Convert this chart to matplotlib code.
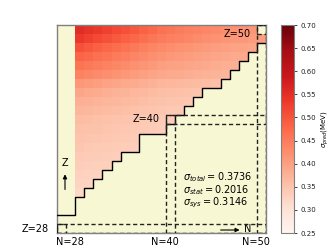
import numpy as np
import matplotlib
matplotlib.use("Agg")
import matplotlib.pyplot as plt
from matplotlib.patches import Rectangle

# ---- data ----
n_min, n_max = 28, 50
z_min, z_max = 28, 50
first_pred_N = 30
# highest known Z for each N (28..50), defines the staircase
z_known_max = [29, 29, 31, 32, 33, 34, 35, 36, 36, 38, 38, 38, 39, 40, 41,
               42, 43, 43, 44, 45, 46, 47, 48]
# predicted sigma values per Z row, starting at N=30
pred_rows = {
    50: [.555, .545, .535, .525, .515, .505, .495, .485, .475, .465, .458, .452, .446, .440, .435, .430, .425, .420, .420, .415],
    49: [.535, .525, .515, .505, .496, .487, .478, .469, .459, .450, .445, .440, .434, .429, .424, .420, .415, .410, .410, .406, .404],
    48: [.505, .496, .487, .478, .470, .462, .454, .446, .438, .430, .425, .420, .416, .412, .408, .404, .400, .396, .396, .392],
    47: [.482, .475, .467, .460, .452, .445, .438, .431, .423, .416, .412, .408, .404, .401, .397, .394, .390, .386, .386],
    46: [.460, .454, .447, .441, .434, .428, .422, .415, .409, .402, .399, .396, .393, .390, .386, .383, .380, .377],
    45: [.440, .434, .429, .423, .418, .412, .406, .401, .395, .390, .387, .384, .381, .378, .376, .373, .370],
    44: [.412, .407, .402, .397, .392, .388, .384, .379, .375, .370, .368, .366, .364, .362, .359, .357],
    43: [.392, .388, .384, .380, .376, .372, .368, .365, .361, .358, .356, .354, .352, .350],
    42: [.380, .377, .374, .370, .367, .364, .361, .358, .354, .351, .350, .348, .346],
    41: [.370, .367, .364, .362, .359, .356, .353, .350, .348, .345, .343, .342],
    40: [.360, .358, .355, .353, .350, .348, .346, .343, .341, .338, .337],
    39: [.355, .353, .351, .348, .346, .344, .342, .340, .337, .335],
    38: [.350, .348, .346, .344, .342, .340, .338],
    37: [.345, .343, .341, .340, .338, .336, .334],
    36: [.340, .338, .337, .335, .334],
    35: [.335, .334, .332, .331],
    34: [.330, .329, .328],
    33: [.325, .324],
    32: [.320],
}
magic = [28, 40, 50]
sigma_labels = [r"$\sigma_{total} = 0.3736$", r"$\sigma_{stat} = 0.2016$", r"$\sigma_{sys} = 0.3146$"]
vmin, vmax = 0.25, 0.70
cbar_ticks = [0.25, 0.30, 0.35, 0.40, 0.45, 0.50, 0.55, 0.60, 0.65, 0.70]

# ---- build grid ----
Ns = np.arange(n_min, n_max + 1)
Zs = np.arange(z_min, z_max + 1)
grid = np.full((len(Zs), len(Ns)), np.nan)
for z, row in pred_rows.items():
    for i, v in enumerate(row):
        grid[z - z_min, first_pred_N - n_min + i] = v

fig = plt.figure(figsize=(3.32, 2.49), dpi=100)
ax = fig.add_axes([57/332, 16/249, 209/332, 208/249])
ax.set_facecolor("#F7F7D4")
xe = np.arange(n_min - 0.5, n_max + 1.5)
ye = np.arange(z_min - 0.5, z_max + 1.5)
mesh = ax.pcolormesh(xe, ye, np.ma.masked_invalid(grid), cmap="Reds", vmin=vmin, vmax=vmax)
ax.set_xlim(n_min - 0.5, n_max + 0.5)
ax.set_ylim(z_min - 0.5, z_max + 0.5)
ax.set_xticks([]); ax.set_yticks([])
for s in ax.spines.values():
    s.set_color("#808080")
    s.set_linewidth(1.0)

# staircase boundary of known nuclei
sx, sy = [], []
for i, n in enumerate(Ns):
    zt = z_known_max[i] + 0.5
    sx += [n - 0.5, n + 0.5]
    sy += [zt, zt]
ax.plot(sx, sy, color="black", lw=1.0, zorder=3)

# magic number dashed boxes
for m in magic:
    ax.add_patch(Rectangle((m - 0.5, z_min - 0.5), 1, m - z_min + 1, fill=False,
                           ls=(0, (3, 2)), lw=1.0, ec="#222222", zorder=4))
    ax.add_patch(Rectangle((m - 0.5, m - 0.5), n_max - m + 1, 1, fill=False,
                           ls=(0, (3, 2)), lw=1.0, ec="#222222", zorder=4))

fs = 7
ax.text(28.87, 26.5, "N=28", ha="center", va="center", fontsize=fs)
ax.text(39.38, 26.5, "N=40", ha="center", va="center", fontsize=fs)
ax.text(49.34, 26.5, "N=50", ha="center", va="center", fontsize=fs)
ax.text(26.6, 27.94, "Z=28", ha="right", va="center", fontsize=fs)
ax.text(37.29, 40.1, "Z=40", ha="center", va="center", fontsize=fs)
ax.text(47.3, 49.5, "Z=50", ha="center", va="center", fontsize=fs)

ax.annotate("", xy=(28.38, 34.3), xytext=(28.38, 32.0),
            arrowprops=dict(arrowstyle="-|>", lw=0.8, color="black", mutation_scale=6))
ax.text(28.38, 35.2, "Z", ha="center", va="center", fontsize=fs)
ax.annotate("", xy=(47.9, 27.83), xytext=(45.2, 27.83),
            arrowprops=dict(arrowstyle="-|>", lw=0.8, color="black", mutation_scale=6))
ax.text(48.45, 27.9, "N", ha="center", va="center", fontsize=fs)

for k, lab in enumerate(sigma_labels):
    ax.text(41.36, 33.69 - 1.44 * k, lab, ha="left", va="center", fontsize=fs)

cax = fig.add_axes([281/332, 16/249, 13/332, 208/249])
cb = fig.colorbar(mesh, cax=cax, ticks=cbar_ticks)
cb.outline.set_edgecolor("#808080")
cb.ax.tick_params(labelsize=5, length=2.5, width=0.6, colors="#222222", pad=2.5)
cb.ax.set_yticklabels([f"{t:.2f}" for t in cbar_ticks])
cb.set_label(r"$\sigma_{pred}$(MeV)", fontsize=5, labelpad=2)

fig.savefig("out.png", dpi=100)
